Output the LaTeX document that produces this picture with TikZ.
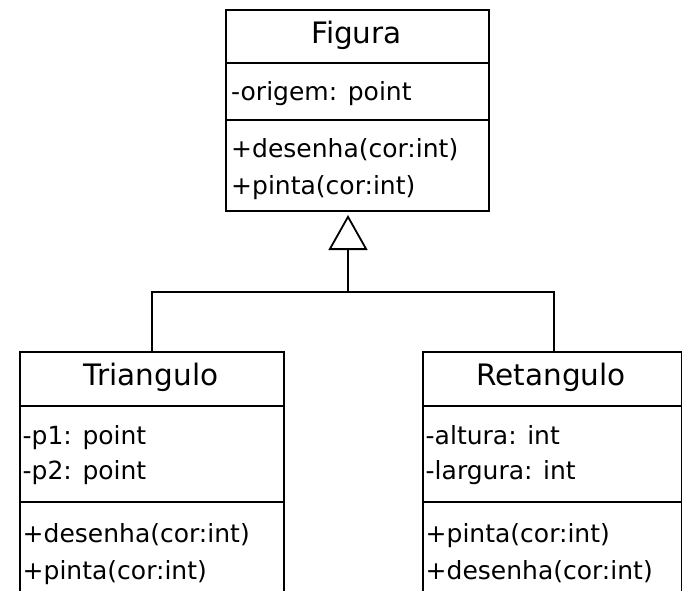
\documentclass[tikz,border=0pt]{standalone}
\usepackage{fontspec}
\setmainfont{DejaVu Sans}
\usetikzlibrary{arrows.meta}

\tikzset{
  classbox/.style={draw=black, line width=1.8pt, minimum width=#1, anchor=north west, inner sep=0pt},
  divider/.style={draw=black, line width=1.8pt},
  link/.style={draw=black, line width=1.8pt},
  title/.style={anchor=base, inner sep=0pt, font=\fontsize{29.5}{34}\selectfont},
  member/.style={anchor=base west, inner sep=0pt, font=\fontsize{25}{29}\selectfont},
  generalization/.style={-{Triangle[open, length=35pt, width=39pt, line width=1.8pt]}}
}

\begin{document}
\begin{tikzpicture}[x=1pt, y=-1pt]
  \useasboundingbox (0,0) rectangle (682,590);
  \clip (0,0) rectangle (682,590);

  % ---------- Figura ----------
  \node[classbox=263pt, minimum height=201pt] (fig) at (225,9) {};
  \draw[divider] (225,63) -- (488,63);
  \draw[divider] (225,120) -- (488,120);
  \node[title] (figT) at (356.5,43) {Figura};
  \node[member] (figA) at (231,100) {-origem: point};
  \node[member] (figM1) at (231,157) {+desenha(cor:int)};
  \node[member] (figM2) at (231,194) {+pinta(cor:int)};

  % ---------- Triangulo ----------
  \node[classbox=264pt, minimum height=280pt] (tri) at (19,351) {};
  \draw[divider] (19,406) -- (283,406);
  \draw[divider] (19,502) -- (283,502);
  \node[title] (triT) at (151,385) {Triangulo};
  \node[member] (triA1) at (22.5,444) {-p1: point};
  \node[member] (triA2) at (22.5,479) {-p2: point};
  \node[member] (triM1) at (22.5,542) {+desenha(cor:int)};
  \node[member] (triM2) at (22.5,579) {+pinta(cor:int)};

  % ---------- Retangulo ----------
  \node[classbox=258.5pt, minimum height=280pt] (ret) at (422,351) {};
  \draw[divider] (422,406) -- (681,406);
  \draw[divider] (422,502) -- (681,502);
  \node[title] (retT) at (551,385) {Retangulo};
  \node[member] (retA1) at (425.5,444) {-altura: int};
  \node[member] (retA2) at (425.5,479) {-largura: int};
  \node[member] (retM1) at (425.5,542) {+pinta(cor:int)};
  \node[member] (retM2) at (425.5,579) {+desenha(cor:int)};

  % ---------- generalization ----------
  \coordinate (j) at (348,292);
  \coordinate (jl) at (152,292);
  \coordinate (jr) at (554,292);
  \coordinate (tip) at (348,215);
  \draw[link] (jl |- tri.north) -- (jl) -- (jr) -- (jr |- ret.north);
  \draw[link, generalization] (j) -- (tip);
\end{tikzpicture}
\end{document}
